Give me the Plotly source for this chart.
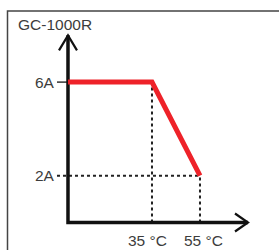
import plotly.graph_objects as go

# Data
title_text = "GC-1000R"
temps = [0, 35, 55]          # °C
currents = [6, 6, 2]         # A
y_ticks = [6, 2]
y_tick_labels = ["6A", "2A"]
x_ticks = [35, 55]
x_tick_labels = ["35 °C", "55 °C"]
x_max = 75
y_max = 8

W, H = 279, 250
x_range = [-28.33, 87.92]
y_range = [-1.175, 9.509]
px_x = (x_range[1] - x_range[0]) / W
px_y = (y_range[1] - y_range[0]) / H

fig = go.Figure()

dash_col = "#222222"
# dashed guide lines
fig.add_trace(go.Scatter(x=[x_ticks[0], x_ticks[0]], y=[0, currents[1]], mode="lines",
                         line=dict(color=dash_col, width=2, dash="3px,3px"), hoverinfo="skip"))
fig.add_trace(go.Scatter(x=[x_ticks[1], x_ticks[1]], y=[0, currents[2]], mode="lines",
                         line=dict(color=dash_col, width=2, dash="3px,3px"), hoverinfo="skip"))
fig.add_trace(go.Scatter(x=[-11 * px_x, temps[2]], y=[y_ticks[1], y_ticks[1]], mode="lines",
                         line=dict(color=dash_col, width=2, dash="3px,3px"), hoverinfo="skip"))
# 6A tick
fig.add_trace(go.Scatter(x=[-11 * px_x, 0], y=[y_ticks[0], y_ticks[0]], mode="lines",
                         line=dict(color="#333333", width=1.5), hoverinfo="skip"))

# axes
ax_col = "#111111"
fig.add_trace(go.Scatter(x=[0, 0, x_max], y=[y_max, 0, 0], mode="lines",
                         line=dict(color=ax_col, width=3.5), hoverinfo="skip"))
# y arrowhead
fig.add_trace(go.Scatter(x=[-9 * px_x, 0, 9 * px_x], y=[y_max - 15 * px_y, y_max, y_max - 15 * px_y],
                         mode="lines", line=dict(color=ax_col, width=2.2), hoverinfo="skip"))
# x arrowhead
fig.add_trace(go.Scatter(x=[x_max - 13 * px_x, x_max, x_max - 13 * px_x], y=[9 * px_y, 0, -9 * px_y],
                         mode="lines", line=dict(color=ax_col, width=2.2), hoverinfo="skip"))

# derating curve
fig.add_trace(go.Scatter(x=temps, y=currents, mode="lines",
                         line=dict(color="#ee2229", width=5), hoverinfo="skip"))

font = dict(family="Liberation Sans, Arial, sans-serif", size=15.5, color="#3c3c3c")
for yv, lab in zip(y_ticks, y_tick_labels):
    fig.add_annotation(x=-11 * px_x, y=yv, text=lab, showarrow=False, xanchor="right",
                       yanchor="middle", font=font, xshift=0)
for xv, lab, sh in zip(x_ticks, x_tick_labels, [-4, 4]):
    fig.add_annotation(x=xv, y=0, text=lab, showarrow=False, xanchor="center",
                       yanchor="middle", yshift=-18, xshift=sh, font=font)
fig.add_annotation(x=16 / W, y=1 - 25 / H, xref="paper", yref="paper", text=title_text,
                   showarrow=False, xanchor="left", yanchor="middle", font=font)

# frame
fig.add_shape(type="rect", xref="paper", yref="paper", x0=7.5 / W, x1=1.2,
              y0=-0.2, y1=1 - 11 / H, line=dict(color="#444444", width=1.5))

fig.update_layout(
    width=W, height=H, margin=dict(l=0, r=0, t=0, b=0),
    paper_bgcolor="white", plot_bgcolor="white", showlegend=False,
    xaxis=dict(range=x_range, visible=False, fixedrange=True),
    yaxis=dict(range=y_range, visible=False, fixedrange=True),
)
fig.write_html("out.html", config={"displayModeBar": False},
               post_script="document.body.style.margin='0';document.body.style.overflow='hidden';")
